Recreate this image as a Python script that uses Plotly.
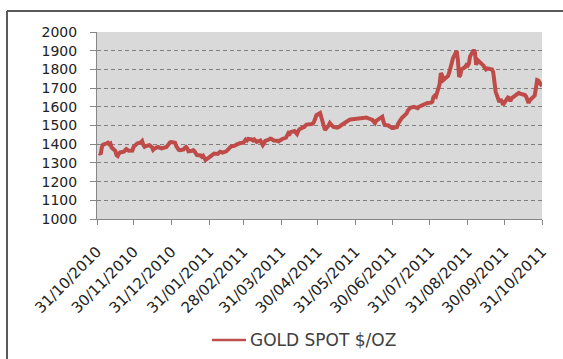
import plotly.graph_objects as go

dates = [
 "2010-11-02","2010-11-03","2010-11-04","2010-11-05","2010-11-08","2010-11-09","2010-11-10","2010-11-11","2010-11-12",
 "2010-11-15","2010-11-16","2010-11-17","2010-11-18","2010-11-19","2010-11-22","2010-11-23","2010-11-24","2010-11-26",
 "2010-11-29","2010-11-30",
 "2010-12-01","2010-12-02","2010-12-03","2010-12-06","2010-12-07","2010-12-08","2010-12-09","2010-12-10","2010-12-13",
 "2010-12-14","2010-12-15","2010-12-16","2010-12-17","2010-12-20","2010-12-21","2010-12-22","2010-12-23","2010-12-27",
 "2010-12-28","2010-12-29","2010-12-30","2010-12-31",
 "2011-01-03","2011-01-04","2011-01-05","2011-01-06","2011-01-07","2011-01-10","2011-01-11","2011-01-12","2011-01-13",
 "2011-01-14","2011-01-17","2011-01-18","2011-01-19","2011-01-20","2011-01-21","2011-01-24","2011-01-25","2011-01-26",
 "2011-01-27","2011-01-28","2011-01-31",
 "2011-02-01","2011-02-02","2011-02-03","2011-02-04","2011-02-07","2011-02-08","2011-02-09","2011-02-10","2011-02-11",
 "2011-02-14","2011-02-15","2011-02-16","2011-02-17","2011-02-18","2011-02-21","2011-02-22","2011-02-23","2011-02-24",
 "2011-02-25","2011-02-28",
 "2011-03-01","2011-03-02","2011-03-03","2011-03-04","2011-03-07","2011-03-08","2011-03-09","2011-03-10","2011-03-11",
 "2011-03-14","2011-03-15","2011-03-16","2011-03-17","2011-03-18","2011-03-21","2011-03-22","2011-03-23","2011-03-24",
 "2011-03-25","2011-03-28","2011-03-29","2011-03-30","2011-03-31",
 "2011-04-01","2011-04-04","2011-04-05","2011-04-06","2011-04-07","2011-04-08","2011-04-11","2011-04-12","2011-04-13",
 "2011-04-14","2011-04-15","2011-04-18","2011-04-19","2011-04-20","2011-04-21","2011-04-25","2011-04-26","2011-04-27",
 "2011-04-28","2011-04-29",
 "2011-05-02","2011-05-03","2011-05-04","2011-05-05","2011-05-06","2011-05-09","2011-05-10","2011-05-11","2011-05-12",
 "2011-05-13","2011-05-16","2011-05-17","2011-05-18","2011-05-19","2011-05-20","2011-05-23","2011-05-24","2011-05-25",
 "2011-05-26","2011-05-27","2011-05-31",
 "2011-06-01","2011-06-02","2011-06-03","2011-06-06","2011-06-07","2011-06-08","2011-06-09","2011-06-10","2011-06-13",
 "2011-06-14","2011-06-15","2011-06-16","2011-06-17","2011-06-20","2011-06-21","2011-06-22","2011-06-23","2011-06-24",
 "2011-06-27","2011-06-28","2011-06-29","2011-06-30",
 "2011-07-01","2011-07-04","2011-07-05","2011-07-06","2011-07-07","2011-07-08","2011-07-11","2011-07-12","2011-07-13",
 "2011-07-14","2011-07-15","2011-07-18","2011-07-19","2011-07-20","2011-07-21","2011-07-22","2011-07-25","2011-07-26",
 "2011-07-27","2011-07-28","2011-07-29",
 "2011-08-01","2011-08-02","2011-08-03","2011-08-04","2011-08-05","2011-08-08","2011-08-09","2011-08-10","2011-08-11",
 "2011-08-12","2011-08-15","2011-08-16","2011-08-17","2011-08-18","2011-08-19","2011-08-22","2011-08-23","2011-08-24",
 "2011-08-25","2011-08-26","2011-08-29","2011-08-30","2011-08-31",
 "2011-09-01","2011-09-02","2011-09-05","2011-09-06","2011-09-07","2011-09-08","2011-09-09","2011-09-12","2011-09-13",
 "2011-09-14","2011-09-15","2011-09-16","2011-09-19","2011-09-20","2011-09-21","2011-09-22","2011-09-23","2011-09-26",
 "2011-09-27","2011-09-28","2011-09-29","2011-09-30",
 "2011-10-03","2011-10-04","2011-10-05","2011-10-06","2011-10-07","2011-10-10","2011-10-11","2011-10-12","2011-10-13",
 "2011-10-14","2011-10-17","2011-10-18","2011-10-19","2011-10-20","2011-10-21","2011-10-24","2011-10-25","2011-10-26",
 "2011-10-27","2011-10-28","2011-10-31",
]

prices = [
 1353,1345,1385,1398,1405,1408,1400,1404,1382,
 1365,1342,1337,1350,1356,1360,1372,1374,1365,
 1366,1386,
 1392,1398,1404,1410,1417,1396,1386,1390,1395,
 1390,1385,1370,1376,1385,1381,1380,1378,1385,
 1395,1405,1410,1412,
 1408,1390,1376,1370,1368,1372,1380,1385,1378,
 1362,1365,1368,1362,1346,1342,1340,1333,1338,
 1325,1316,1330,
 1335,1338,1345,1350,1348,1355,1360,1358,1355,
 1362,1370,1375,1382,1388,1392,1398,1400,1402,
 1405,1408,
 1415,1425,1420,1428,1425,1420,1425,1415,1412,
 1420,1400,1395,1405,1418,1425,1430,1428,1422,
 1420,1418,1415,1420,1425,
 1428,1435,1450,1460,1455,1465,1470,1460,1455,
 1470,1480,1490,1492,1500,1505,1508,1510,1520,
 1535,1555,
 1567,1545,1530,1495,1476,1500,1513,1505,1495,
 1492,1488,1490,1495,1500,1505,1515,1520,1525,
 1530,1532,1536,
 1540,1540,1542,1545,1546,1545,1543,1540,1535,
 1530,1520,1513,1525,1535,1542,1547,1520,1503,
 1500,1495,1490,1487,
 1487,1492,1510,1525,1530,1540,1555,1565,1580,
 1590,1595,1600,1598,1595,1593,1600,1605,1612,
 1615,1615,1620,
 1622,1627,1653,1660,1655,1720,1780,1770,1743,
 1750,1765,1785,1813,1830,1860,1899,1850,1760,
 1770,1800,1813,1824,1820,
 1830,1870,1904,1890,1824,1851,1845,1830,1820,
 1808,1800,1805,1797,1800,1785,1740,1680,1625,
 1640,1630,1610,1620,
 1650,1647,1630,1645,1650,1660,1665,1674,1670,
 1668,1663,1655,1640,1620,1635,1650,1660,1700,
 1743,1740,1711,
]

tick_dates = ["2010-10-31","2010-11-30","2010-12-31","2011-01-31","2011-02-28","2011-03-31","2011-04-30",
              "2011-05-31","2011-06-30","2011-07-31","2011-08-31","2011-09-30","2011-10-31"]
tick_labels = ["31/10/2010","30/11/2010","31/12/2010","31/01/2011","28/02/2011","31/03/2011","30/04/2011",
               "31/05/2011","30/06/2011","31/07/2011","31/08/2011","30/09/2011","31/10/2011"]
y_ticks = list(range(1000, 2001, 100))
series_name = "GOLD SPOT $/OZ"

LINE_COLOR = "#bf4b48"

fig = go.Figure()
fig.add_trace(go.Scatter(x=dates, y=prices, mode="lines", name=series_name, showlegend=False,
                         line=dict(color=LINE_COLOR, width=4)))

L, R, T, B = 97, 21, 32, 140
W, H = 563, 359
pw, ph = W - L - R, H - T - B

def px_x(p):
    return (p - L) / pw

def px_y(p):
    return (H - B - p) / ph

FONT = "DejaVu Sans, Verdana, sans-serif"
FRAME = dict(color="#5a5a5a", width=2)

fig.update_layout(
    width=W, height=H,
    margin=dict(l=L, r=R, t=T, b=B, pad=0, autoexpand=False),
    paper_bgcolor="white",
    plot_bgcolor="#d9d9d9",
    font=dict(family=FONT, color="#222222"),
    showlegend=False,
    xaxis=dict(type="date", range=["2010-10-31", "2011-10-31"], automargin=False,
               tickmode="array", tickvals=tick_dates, ticktext=tick_labels,
               tickangle=-45, tickfont=dict(size=15, color="#222222", family=FONT),
               ticks="outside", ticklen=5, tickcolor="#868686",
               ticklabelstandoff=12,
               showline=True, linecolor="#868686", linewidth=1,
               showgrid=False, zeroline=False),
    yaxis=dict(range=[1000, 2000], tickmode="array", tickvals=y_ticks, automargin=False,
               tickfont=dict(size=14, color="#222222", family=FONT),
               ticks="outside", ticklen=6, tickcolor="#868686",
               ticklabelstandoff=10,
               showline=True, linecolor="#868686", linewidth=1,
               showgrid=True, gridcolor="#7f7f7f", griddash="4px,3px", gridwidth=1,
               zeroline=False),
    shapes=[
        dict(type="line", xref="paper", yref="paper",
             x0=px_x(7), x1=px_x(600), y0=px_y(11), y1=px_y(11), line=FRAME),
        dict(type="line", xref="paper", yref="paper",
             x0=px_x(7), x1=px_x(7), y0=px_y(11), y1=px_y(400), line=FRAME),
        # legend key line
        dict(type="line", xref="paper", yref="paper",
             x0=px_x(212), x1=px_x(246), y0=px_y(340), y1=px_y(340),
             line=dict(color="#c0504d", width=2.5)),
    ],
    annotations=[
        dict(text=series_name, xref="paper", yref="paper", x=px_x(248), y=px_y(340),
             xanchor="left", yanchor="middle", showarrow=False,
             font=dict(size=17, color="#404040", family=FONT)),
    ],
)

fig.write_html("out.html")
